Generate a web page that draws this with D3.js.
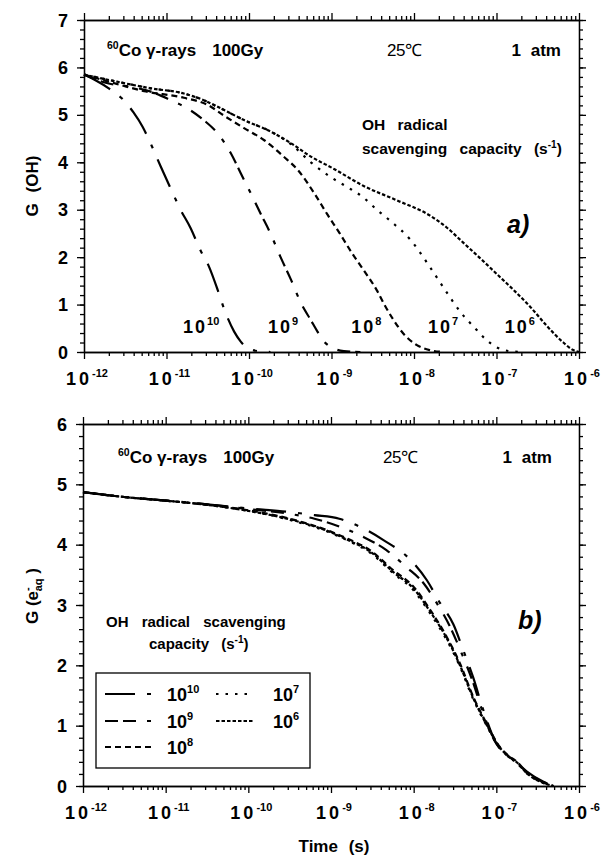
<!DOCTYPE html>
<html>
<head>
<meta charset="utf-8">
<script src="https://cdn.jsdelivr.net/npm/d3@7"></script>
<style>
  body { margin: 0; background: #fff; }
  text { font-family: "Liberation Sans", Arial, sans-serif; fill: #000; }
</style>
</head>
<body>
<svg id="fig" width="603" height="858"></svg>
<script>
// tick decades of the time axis (exponent of 10, seconds)
var decades = [-12, -11, -10, -9, -8, -7, -6];
// OH radical scavenging capacities, exponent of 10 (s^-1)
var capacities = [10, 9, 8, 7, 6];

// panel a) G(OH) vs time, points are [log10 t, G]
var ohCap10 = [[-12,5.85],[-11.85,5.72],[-11.7,5.56],[-11.52,5.31],[-11.4,5.05],[-11.29,4.75],[-11.18,4.35],[-11.07,3.91],[-10.95,3.45],[-10.83,3.0],[-10.71,2.62],[-10.59,2.15],[-10.48,1.78],[-10.38,1.31],[-10.3,0.9],[-10.18,0.43],[-10.1,0.22],[-10.04,0.11],[-9.95,0.04],[-9.86,0.01],[-9.74,0]];
var ohCap9 = [[-12,5.85],[-11.85,5.74],[-11.7,5.66],[-11.43,5.59],[-11.19,5.49],[-10.95,5.31],[-10.75,5.14],[-10.55,4.89],[-10.38,4.61],[-10.22,4.19],[-10.1,3.77],[-9.98,3.35],[-9.86,2.92],[-9.74,2.5],[-9.62,2.01],[-9.49,1.52],[-9.37,1.03],[-9.25,0.67],[-9.17,0.43],[-9.09,0.22],[-8.98,0.08],[-8.85,0.02],[-8.65,0]];
var ohCap8 = [[-12,5.85],[-11.7,5.7],[-11.27,5.5],[-10.79,5.36],[-10.5,5.21],[-10.3,4.98],[-10.06,4.72],[-9.82,4.47],[-9.58,4.12],[-9.41,3.84],[-9.21,3.35],[-9.05,2.9],[-8.9,2.5],[-8.75,2.08],[-8.6,1.7],[-8.45,1.3],[-8.35,0.97],[-8.25,0.68],[-8.13,0.39],[-7.97,0.15],[-7.81,0.04],[-7.64,0]];
var ohCap7 = [[-12,5.85],[-11.6,5.7],[-11.19,5.56],[-10.79,5.45],[-10.55,5.31],[-10.38,5.17],[-10.06,4.89],[-9.74,4.65],[-9.49,4.38],[-9.25,4.0],[-9.02,3.7],[-8.82,3.49],[-8.63,3.28],[-8.45,3.0],[-8.27,2.74],[-8.05,2.38],[-7.81,1.8],[-7.62,1.3],[-7.44,0.85],[-7.27,0.52],[-7.12,0.25],[-7.0,0.1],[-6.85,0.02],[-6.7,0]];
var ohCap6 = [[-12,5.85],[-11.6,5.7],[-11.19,5.56],[-10.79,5.45],[-10.55,5.31],[-10.38,5.17],[-10.06,4.89],[-9.74,4.65],[-9.49,4.4],[-9.25,4.12],[-8.97,3.86],[-8.61,3.5],[-8.21,3.2],[-7.81,2.88],[-7.6,2.62],[-7.4,2.3],[-7.2,1.98],[-7.0,1.65],[-6.8,1.32],[-6.59,0.95],[-6.39,0.55],[-6.19,0.2],[-6.07,0.04],[-6.0,0]];

// panel b) G(e-aq) vs time
var eCap10 = [[-12,4.87],[-11.5,4.79],[-11,4.73],[-10.5,4.67],[-10,4.6],[-9.5,4.54],[-9.2,4.49],[-8.9,4.43],[-8.61,4.27],[-8.37,4.08],[-8.04,3.75],[-7.84,3.41],[-7.68,3.03],[-7.52,2.68],[-7.4,2.25],[-7.28,1.8],[-7.16,1.27],[-7.0,0.71],[-6.9,0.55],[-6.78,0.42],[-6.63,0.24],[-6.43,0.07],[-6.31,0]];
var eCap9 = [[-12,4.87],[-11.5,4.79],[-11,4.73],[-10.5,4.67],[-10,4.59],[-9.5,4.51],[-9.2,4.43],[-8.9,4.3],[-8.61,4.13],[-8.33,3.91],[-8.09,3.63],[-7.88,3.36],[-7.72,3.03],[-7.56,2.64],[-7.42,2.2],[-7.29,1.75],[-7.17,1.25],[-7.0,0.7],[-6.9,0.54],[-6.78,0.41],[-6.63,0.23],[-6.43,0.06],[-6.31,0]];
var eCap8 = [[-12,4.87],[-11.5,4.79],[-11,4.73],[-10.5,4.66],[-10,4.57],[-9.5,4.43],[-9.01,4.22],[-8.77,4.08],[-8.53,3.91],[-8.25,3.58],[-8.0,3.3],[-7.8,2.92],[-7.6,2.47],[-7.44,2.03],[-7.28,1.48],[-7.12,1.04],[-6.96,0.65],[-6.85,0.5],[-6.75,0.4],[-6.63,0.22],[-6.43,0.06],[-6.31,0]];
var eCap7 = [[-12,4.87],[-11.5,4.79],[-11,4.73],[-10.5,4.66],[-10,4.56],[-9.5,4.41],[-9.01,4.2],[-8.77,4.05],[-8.53,3.87],[-8.25,3.53],[-8.0,3.24],[-7.8,2.86],[-7.6,2.42],[-7.44,1.98],[-7.28,1.44],[-7.12,1.01],[-6.96,0.63],[-6.85,0.48],[-6.75,0.38],[-6.63,0.21],[-6.43,0.05],[-6.31,0]];
var eCap6 = [[-12,4.87],[-11.5,4.79],[-11,4.73],[-10.5,4.66],[-10,4.56],[-9.5,4.42],[-9.01,4.21],[-8.77,4.06],[-8.53,3.89],[-8.25,3.55],[-8.0,3.27],[-7.8,2.89],[-7.6,2.45],[-7.44,2.0],[-7.28,1.46],[-7.12,1.02],[-6.96,0.64],[-6.85,0.49],[-6.75,0.39],[-6.63,0.21],[-6.43,0.05],[-6.31,0]];

var ohSeries = [ohCap10, ohCap9, ohCap8, ohCap7, ohCap6];
var eSeries = [eCap10, eCap9, eCap8, eCap7, eCap6];

// line styles for each capacity
var dashes = ["30,12,4,12", "13,5,13,11,4,11", "6,4", "2.5,7", "3.5,2"];

var svg = d3.select("#fig");

function drawPanel(o) {
    var x = d3.scaleLog().domain([1e-12, 1e-6]).range([o.left, o.right]);
    var y = d3.scaleLinear().domain([0, o.ymax]).range([o.bottom, o.top]);
    var g = svg.append("g");

    var majX = decades.map(function(e) { return Math.pow(10, e); });
    var minX = [];
    decades.slice(0, -1).forEach(function(e) {
        for (var m = 2; m <= 9; m++) minX.push(m * Math.pow(10, e));
    });
    var majY = d3.range(0, o.ymax + 1);
    var minY = d3.range(0, o.ymax * 5 + 1).map(function(i) { return i / 5; });

    function ax(gen, tr, vals, size) {
        var a = g.append("g").attr("transform", tr)
            .call(gen.tickValues(vals).tickSize(size).tickSizeOuter(0).tickFormat(""));
        a.selectAll("path,line").attr("stroke", "#000").attr("stroke-width", 1.3);
    }
    ax(d3.axisBottom(x), "translate(0," + o.bottom + ")", minX, 4);
    ax(d3.axisBottom(x), "translate(0," + o.bottom + ")", majX, 7);
    ax(d3.axisTop(x), "translate(0," + o.top + ")", minX, 4);
    ax(d3.axisTop(x), "translate(0," + o.top + ")", majX, 7);
    ax(d3.axisLeft(y), "translate(" + o.left + ",0)", minY, 4);
    ax(d3.axisLeft(y), "translate(" + o.left + ",0)", majY, 7);
    ax(d3.axisRight(y), "translate(" + o.right + ",0)", minY, 4);
    ax(d3.axisRight(y), "translate(" + o.right + ",0)", majY, 7);

    // tick labels
    decades.forEach(function(e) {
        var t = g.append("text").attr("x", x(Math.pow(10, e)) + 3).attr("y", o.bottom + 33)
            .attr("text-anchor", "middle").attr("font-size", 18).attr("font-weight", "bold");
        t.append("tspan").attr("letter-spacing", 3).text("10");
        t.append("tspan").attr("font-size", 11).attr("dy", -8).text(e);
    });
    majY.forEach(function(v) {
        g.append("text").attr("x", o.left - 16).attr("y", y(v) + 6.5)
            .attr("text-anchor", "end").attr("font-size", 18).attr("font-weight", "bold").text(v);
    });

    var line = d3.line()
        .x(function(d) { return x(Math.pow(10, d[0])); })
        .y(function(d) { return y(d[1]); })
        .curve(d3.curveMonotoneX);

    g.selectAll("path.curve").data(o.series).enter().append("path")
        .attr("class", "curve")
        .attr("d", line)
        .attr("fill", "none")
        .attr("stroke", "#000")
        .attr("stroke-width", 2.2)
        .attr("stroke-dasharray", function(d, i) { return dashes[i]; });

    // header line
    var h = g.append("text").attr("x", o.hdrX).attr("y", o.hdrY)
        .attr("font-size", 17).attr("font-weight", "bold");
    h.append("tspan").attr("font-size", 10.5).attr("dy", -7).text("60");
    h.append("tspan").attr("dy", 7).text("Co \u03b3-rays");
    h.append("tspan").attr("dx", 16).text("100Gy");
    g.append("text").attr("x", o.tempX).attr("y", o.hdrY).attr("font-size", 17)
        .attr("font-family", "DejaVu Sans, sans-serif").attr("letter-spacing", -0.5).text("25\u2103");
    g.append("text").attr("x", o.atmX).attr("y", o.hdrY).attr("text-anchor", "end")
        .attr("font-size", 17).attr("font-weight", "bold").attr("word-spacing", 5).text("1 atm");

    return { x: x, y: y, g: g };
}

// ---------- panel a ----------
var pa = drawPanel({ left: 84, right: 579, top: 20, bottom: 352, ymax: 7,
    series: ohSeries, hdrX: 107, hdrY: 56, tempX: 387, atmX: 561 });

pa.g.append("text").attr("x", 362).attr("y", 130).attr("font-size", 15.5).attr("font-weight", "bold")
    .attr("word-spacing", 8).text("OH radical");
var sc = pa.g.append("text").attr("x", 362).attr("y", 154).attr("font-size", 15.5).attr("font-weight", "bold")
    .attr("word-spacing", 8);
sc.append("tspan").text("scavenging capacity (s");
sc.append("tspan").attr("font-size", 10).attr("dy", -6).text("-1");
sc.append("tspan").attr("dy", 6).text(")");

pa.g.append("text").attr("x", 507).attr("y", 233).attr("font-size", 25)
    .attr("font-weight", "bold").attr("font-style", "italic").text("a)");

// curve labels of panel a
var capLabelAt = [-10.8, -9.77, -8.76, -7.83, -6.9];
capacities.forEach(function(c, i) {
    var t = pa.g.append("text").attr("x", pa.x(Math.pow(10, capLabelAt[i]))).attr("y", pa.y(0.4))
        .attr("font-size", 18).attr("font-weight", "bold");
    t.append("tspan").attr("letter-spacing", 2).text("10");
    t.append("tspan").attr("font-size", 11).attr("dy", -8).text(c);
});

svg.append("text").attr("transform", "translate(38,186) rotate(-90)")
    .attr("text-anchor", "middle").attr("font-size", 17).attr("font-weight", "bold")
    .attr("word-spacing", 6).text("G (OH)");

// ---------- panel b ----------
var pb = drawPanel({ left: 83, right: 579, top: 424, bottom: 786, ymax: 6,
    series: eSeries, hdrX: 118, hdrY: 463, tempX: 383, atmX: 552 });

pb.g.append("text").attr("x", 106).attr("y", 627).attr("font-size", 15).attr("font-weight", "bold")
    .attr("word-spacing", 9).text("OH radical scavenging");
var sc2 = pb.g.append("text").attr("x", 149).attr("y", 649).attr("font-size", 15).attr("font-weight", "bold")
    .attr("word-spacing", 8);
sc2.append("tspan").text("capacity (s");
sc2.append("tspan").attr("font-size", 10).attr("dy", -6).text("-1");
sc2.append("tspan").attr("dy", 6).text(")");

pb.g.append("text").attr("x", 518).attr("y", 629).attr("font-size", 25)
    .attr("font-weight", "bold").attr("font-style", "italic").text("b)");

svg.append("text").attr("x", 334).attr("y", 852).attr("text-anchor", "middle")
    .attr("font-size", 17).attr("font-weight", "bold").attr("word-spacing", 6).text("Time (s)");

var yl = svg.append("text").attr("transform", "translate(38,596) rotate(-90)")
    .attr("text-anchor", "middle").attr("font-size", 17).attr("font-weight", "bold");
yl.append("tspan").text("G  (e");
yl.append("tspan").attr("font-size", 11).attr("dy", -7).text("-");
yl.append("tspan").attr("font-size", 11).attr("dy", 11).attr("dx", -4).text("aq");
yl.append("tspan").attr("dy", -4).text(" )");

// legend
var lg = svg.append("g");
lg.append("rect").attr("x", 96).attr("y", 673).attr("width", 214).attr("height", 95)
    .attr("fill", "none").attr("stroke", "#000").attr("stroke-width", 1.3);
var legPos = [[105, 694], [105, 721], [105, 747], [216, 694], [216, 721]];
capacities.forEach(function(c, i) {
    var p = legPos[i];
    var len = i < 3 ? 48 : 38;
    lg.append("line").attr("x1", p[0]).attr("x2", p[0] + len).attr("y1", p[1]).attr("y2", p[1])
        .attr("stroke", "#000").attr("stroke-width", 2.2).attr("stroke-dasharray", dashes[i]);
    var t = lg.append("text").attr("x", i < 3 ? 167 : 273).attr("y", p[1] + 7)
        .attr("font-size", 18).attr("font-weight", "bold");
    t.append("tspan").text("10");
    t.append("tspan").attr("font-size", 11).attr("dy", -8).text(c);
});
</script>
</body>
</html>
